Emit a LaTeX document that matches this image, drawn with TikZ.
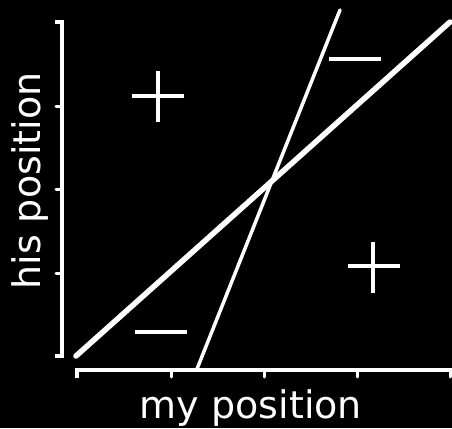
\documentclass[tikz,border=0pt]{standalone}
\usepackage{fontspec}
\setmainfont{DejaVu Sans}
\usetikzlibrary{positioning}

\tikzset{
  axis/.style={white, line width=3.5pt, line join=miter},
  tick/.style={white, line width=3pt, line cap=round},
  sign/.style={white, line width=4pt},
  lbl/.style={white, font=\fontsize{38}{40}\selectfont, inner sep=0pt, anchor=base}
}

\begin{document}
\begin{tikzpicture}[x=1pt,y=-1pt]
    \fill[black] (0,0) rectangle (452,428);
    \useasboundingbox (0,0) rectangle (452,428);

    % Axes with ticks
    \draw[axis] (55,22) -- (62,22) -- (62,356) -- (55,356);
    \foreach \y in {106,189,273} \draw[tick] (62,\y) -- (56,\y);
    \draw[axis] (77,378) -- (77,370) -- (452,370);
    \foreach \x in {171,264,357,450} \draw[tick] (\x,370) -- (\x,377);

    % Reaction lines
    \draw[white, line width=5.5pt, line cap=round] (76,356) -- (450,22);
    \draw[white, line width=3.5pt, line cap=round] (197,369) -- (340,10);

    % Signs of the regions
    \draw[sign] (132,96) -- (184,96) (158,71) -- (158,122);
    \draw[sign] (348,266) -- (400,266) (373,242) -- (373,293);
    \draw[sign] (329,59) -- (381,59);
    \draw[sign] (135,332) -- (187,332);

    \node[lbl] (mypos) at (251,418) {my position};
    \node[lbl, rotate=90] (hispos) at (40,181) {his position};
\end{tikzpicture}
\end{document}
